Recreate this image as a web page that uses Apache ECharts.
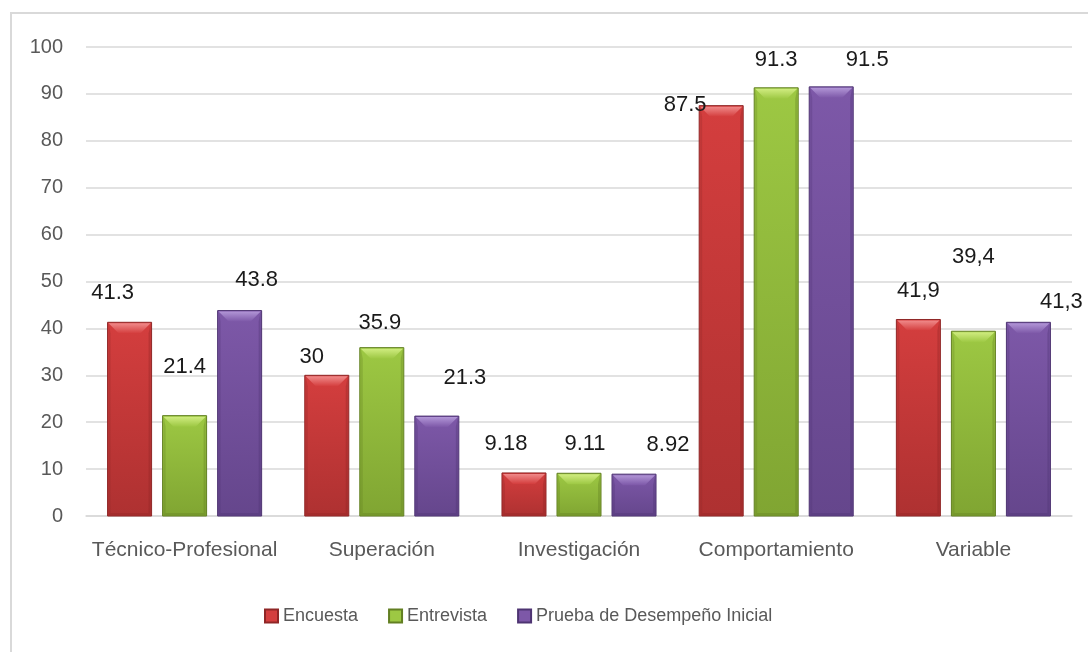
<!DOCTYPE html>
<html>
<head>
<meta charset="utf-8">
<script src="https://cdn.jsdelivr.net/npm/echarts@6/dist/echarts.min.js"></script>
<style>
  html, body { margin: 0; padding: 0; background: #ffffff; }
  #chart { width: 1088px; height: 652px; }
</style>
</head>
<body>
<div id="chart"></div>
<script>
// Categories and series values
const categories = ['Técnico-Profesional', 'Superación', 'Investigación', 'Comportamiento', 'Variable'];
const seriesNames = ['Encuesta', 'Entrevista', 'Prueba de Desempeño Inicial'];
const encuesta   = [41.3, 30, 9.18, 87.5, 41.9];
const entrevista = [21.4, 35.9, 9.11, 91.3, 39.4];
const prueba     = [43.8, 21.3, 8.92, 91.5, 41.3];
const yTicks = [0, 10, 20, 30, 40, 50, 60, 70, 80, 90, 100];

// Value-label nudges in pixels [dx, dy], relative to the bar's top centre
const labelShift = [
  [[-17, -29], [-15, -18], [-18, -29], [-36, -1], [0, -29]],
  [[0, -49], [-2, -25], [6, -29], [0, -28], [0, -74]],
  [[17, -31], [28, -38], [34, -29], [36, -27], [33, -20]]
];

// Bar palette: body, light top bevel, dark edge
const palette = [
  { body: '#d43e3e', light: '#f08a8a', dark: '#8f2626', bottom: '#ae3131' },
  { body: '#9dc843', light: '#d0ec80', dark: '#627f22', bottom: '#80a532' },
  { body: '#7d58a8', light: '#b195d6', dark: '#4e3472', bottom: '#65468c' }
];
const values = [encuesta, entrevista, prueba];

const FONT = 'Liberation Sans';

function fmt(v, cat) {
  const s = String(v);
  return cat === 4 ? s.replace('.', ',') : s;
}

function makeRender(s) {
  return function (params, api) {
    const cat = api.value(0);
    const val = api.value(1);
    const top = api.coord([cat, val]);
    const base = api.coord([cat, 0]);
    const band = api.size([1, 0])[0];
    const w = band * 0.2232;
    const cx = top[0] + (s - 1) * band * 0.279;
    const x = cx - w / 2;
    const y = top[1];
    const h = base[1] - top[1];
    const b = Math.min(11, h / 2);
    const e = 3;
    const c = palette[s];
    const sh = labelShift[s][cat];
    return {
      type: 'group',
      children: [
        { type: 'rect', shape: { x: x, y: y, width: w, height: h },
          style: { fill: new echarts.graphic.LinearGradient(0, 0, 0, 1, [
            { offset: 0, color: c.body }, { offset: 1, color: c.bottom }]),
            stroke: c.dark, lineWidth: 1 } },
        // top bevel
        { type: 'polygon', shape: { points: [[x + 1, y + 1], [x + w - 1, y + 1], [x + w - b, y + b], [x + b, y + b]] },
          style: { fill: new echarts.graphic.LinearGradient(0, 0, 0, 1, [
            { offset: 0, color: c.light }, { offset: 1, color: c.body }]) } },
        // side edges
        { type: 'polygon', shape: { points: [[x + 1, y + 1], [x + e, y + b], [x + e, base[1] - e], [x + 1, base[1] - 1]] },
          style: { fill: c.dark, opacity: 0.28 } },
        { type: 'polygon', shape: { points: [[x + w - 1, y + 1], [x + w - e, y + b], [x + w - e, base[1] - e], [x + w - 1, base[1] - 1]] },
          style: { fill: c.dark, opacity: 0.35 } },
        // bottom edge
        { type: 'polygon', shape: { points: [[x + 1, base[1] - 1], [x + e, base[1] - e], [x + w - e, base[1] - e], [x + w - 1, base[1] - 1]] },
          style: { fill: c.dark, opacity: 0.35 } },
        // value label
        { type: 'text', x: cx + sh[0], y: y + sh[1],
          style: { text: fmt(val, cat), fill: '#1a1a1a', font: '22px "' + FONT + '"',
            align: 'center', verticalAlign: 'middle' } }
      ]
    };
  };
}

const chart = echarts.init(document.getElementById('chart'), null, { renderer: 'canvas' });

const series = seriesNames.map(function (name, s) {
  return {
    type: 'custom',
    name: name,
    renderItem: makeRender(s),
    encode: { x: 0, y: 1 },
    clip: false,
    itemStyle: { color: palette[s].body, borderColor: palette[s].dark, borderWidth: 1 },
    data: values[s].map(function (v, i) { return [i, v]; })
  };
});

chart.setOption({
  animation: false,
  backgroundColor: '#ffffff',
  textStyle: { fontFamily: FONT },
  graphic: [{
    type: 'rect', silent: true,
    shape: { x: 11, y: 13, width: 1100, height: 700 },
    style: { fill: 'none', stroke: '#d9d9d9', lineWidth: 2 }
  }],
  grid: { left: 86, right: 16, top: 47, bottom: 136 },
  legend: {
    data: seriesNames,
    left: 259, top: 602,
    icon: 'rect', itemWidth: 13, itemHeight: 13, itemGap: 30,
    textStyle: { fontFamily: FONT, fontSize: 18, color: '#595959' }
  },
  xAxis: {
    type: 'category',
    data: categories,
    axisLine: { show: true, lineStyle: { color: '#d9d9d9', width: 1.5 } },
    axisTick: { show: false },
    axisLabel: { interval: 0, fontFamily: FONT, fontSize: 21, color: '#595959', margin: 24 }
  },
  yAxis: {
    type: 'value',
    min: yTicks[0], max: yTicks[yTicks.length - 1], interval: yTicks[1] - yTicks[0],
    axisLine: { show: false },
    axisTick: { show: false },
    splitLine: { lineStyle: { color: '#d9d9d9', width: 1.5 } },
    axisLabel: { fontFamily: FONT, fontSize: 20, color: '#595959', margin: 23 }
  },
  series: series
});
</script>
</body>
</html>
